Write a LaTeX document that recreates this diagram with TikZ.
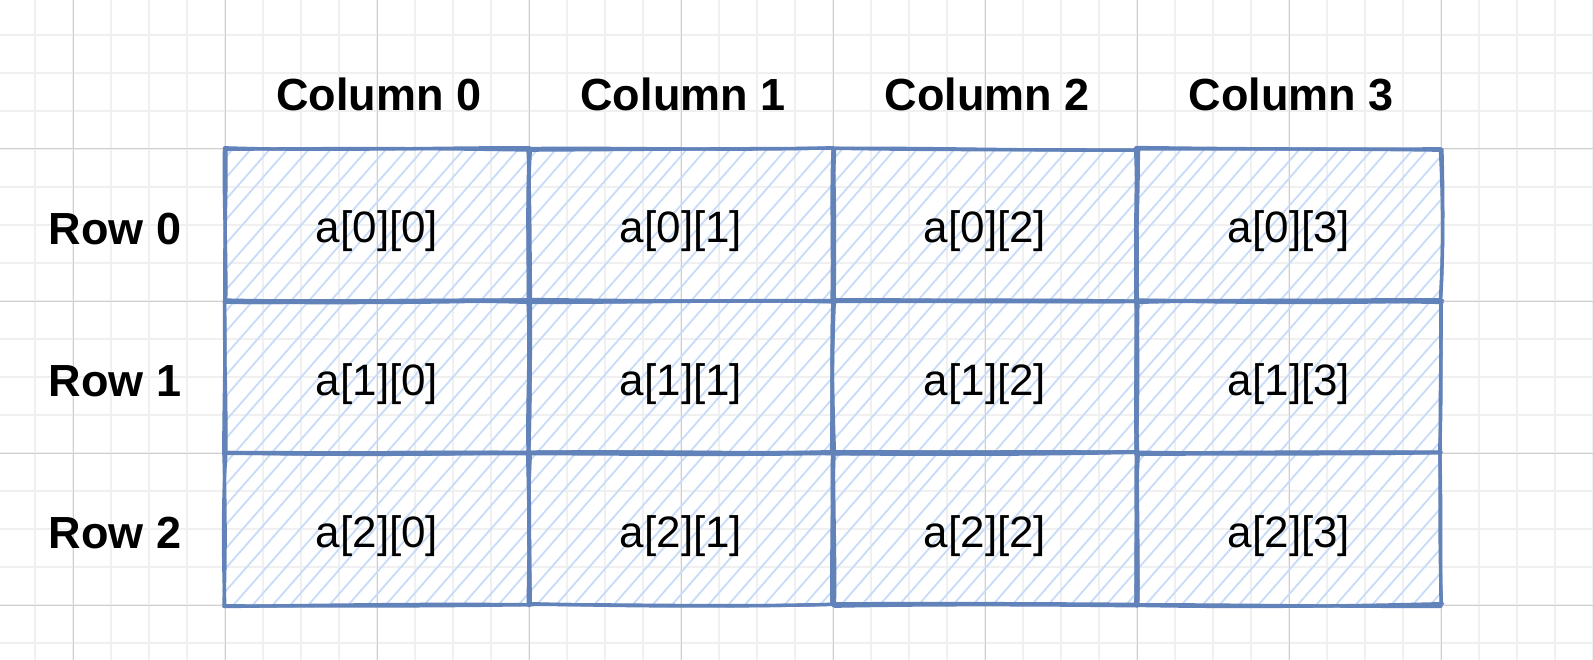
\documentclass[tikz,border=0pt]{standalone}
\usepackage{fontspec}
\setmainfont{Liberation Sans}
\usetikzlibrary{calc}
\definecolor{edgeblue}{HTML}{6282BA}
\definecolor{hatchblue}{HTML}{C8DBF8}
\definecolor{minorgrid}{HTML}{F0F0F0}
\definecolor{majorgrid}{HTML}{CFCFCF}
\pgfdeclarelayer{gridlayer}
\pgfdeclarelayer{hatchlayer}
\pgfsetlayers{gridlayer,hatchlayer,main}
\pgfmathsetseed{11}
\newcommand\roughedge[2]{%
  \foreach \kk in {1,2}{%
    \pgfmathsetmacro\rAx{1.6*rand}\pgfmathsetmacro\rAy{1.6*rand}%
    \pgfmathsetmacro\rBx{1.6*rand}\pgfmathsetmacro\rBy{1.6*rand}%
    \pgfmathsetmacro\rCx{2.4*rand}\pgfmathsetmacro\rCy{2.4*rand}%
    \pgfmathsetmacro\rDx{2.4*rand}\pgfmathsetmacro\rDy{2.4*rand}%
    \draw[celledge] ($(#1)+(\rAx pt,\rAy pt)$) .. controls ($(#1)!0.35!(#2)+(\rCx pt,\rCy pt)$) and ($(#1)!0.7!(#2)+(\rDx pt,\rDy pt)$) .. ($(#2)+(\rBx pt,\rBy pt)$);
  }}
\tikzset{
  cell/.style={rectangle, minimum width=304pt, minimum height=152pt, inner sep=0pt, outer sep=0pt,
    text height=36pt, text depth=0pt, font=\fontsize{44}{52}\selectfont},
  head/.style={inner sep=0pt, outer sep=0pt, text height=36pt, text depth=0pt,
    font=\fontsize{45}{54}\selectfont\bfseries},
  celledge/.style={draw=edgeblue, line width=3.3pt, line cap=round, line join=round},
  hatchline/.style={draw=hatchblue, line width=1.8pt, line cap=round},
  minorline/.style={draw=minorgrid, line width=1.6pt},
  majorline/.style={draw=majorgrid, line width=1pt}
}
\begin{document}
\begin{tikzpicture}[x=1pt,y=-1pt]
\useasboundingbox (0,0) rectangle (1594,660);
% grid
\begin{pgfonlayer}{gridlayer}
  \fill[white] (0,0) rectangle (1594,660);
  \foreach \gx in {-3,35,...,1600} {\draw[minorline] (\gx,0) -- (\gx,660);}
  \foreach \gy in {-3,35,...,665} {\draw[minorline] (0,\gy) -- (1594,\gy);}
  \foreach \gx in {73,225,...,1600} {\draw[majorline] (\gx,0) -- (\gx,660);}
  \foreach \gy in {-3,149,...,665} {\draw[majorline] (0,\gy) -- (1594,\gy);}
\end{pgfonlayer}
% cells
\foreach \r in {0,1,2}{%
  \foreach \c in {0,1,2,3}{%
    \node[cell] (c\r\c) at ({377+304*\c},{225+152*\r}) {a[\r][\c]};
  }}
% headers
\foreach \c in {0,1,2,3}{%
  \node[head] (h\c) at ({379+304*\c},93) {Column \c};
}
\foreach \r in {0,1,2}{%
  \node[head] (r\r) at (115,{226+152*\r}) {Row \r};
}
% hatching
\begin{pgfonlayer}{hatchlayer}
  \begin{scope}
    \clip (c00.north west) rectangle (c23.south east);
    \foreach \s in {-410,-391,...,1230}{%
      \pgfmathsetmacro\hA{2*rand}\pgfmathsetmacro\hB{3*rand}%
      \draw[hatchline] ($(c20.south west)+(\s+\hA,0)$) -- ++(399+\hB,-456);
    }
  \end{scope}
\end{pgfonlayer}
% rough borders
\foreach \r in {0,1,2}{%
  \foreach \c in {0,1,2,3}{%
    \roughedge{c\r\c.north west}{c\r\c.north east}
    \roughedge{c\r\c.north east}{c\r\c.south east}
    \roughedge{c\r\c.south east}{c\r\c.south west}
    \roughedge{c\r\c.south west}{c\r\c.north west}
  }}
\end{tikzpicture}
\end{document}
